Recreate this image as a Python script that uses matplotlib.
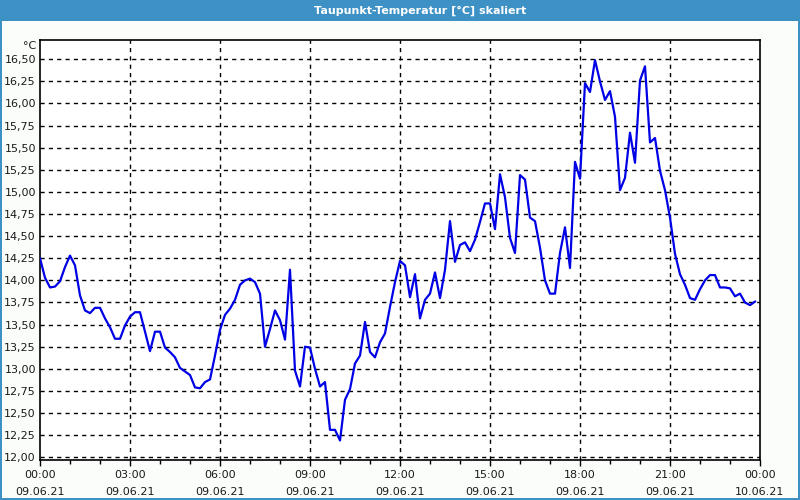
import numpy as np
import pandas as pd
import matplotlib
matplotlib.use("Agg")
import matplotlib.pyplot as plt
import matplotlib.dates as mdates
from matplotlib.patches import Rectangle

# Taupunkt in °C, 10-Minuten-Werte ab 09.06.21 00:00
dewpoint = [
    14.25, 14.03, 13.92, 13.93, 13.99, 14.15, 14.28, 14.17, 13.83, 13.66,
    13.63, 13.69, 13.69, 13.57, 13.47, 13.34, 13.34, 13.49, 13.59, 13.64,
    13.64, 13.42, 13.20, 13.42, 13.42, 13.24, 13.19, 13.13, 13.01, 12.97,
    12.93, 12.79, 12.78, 12.85, 12.88, 13.15, 13.44, 13.61, 13.68, 13.78,
    13.95, 14.00, 14.02, 13.98, 13.85, 13.25, 13.45, 13.66, 13.55, 13.33,
    14.12, 12.98, 12.80, 13.25, 13.24, 13.00, 12.80, 12.85, 12.31, 12.31,
    12.19, 12.65, 12.77, 13.06, 13.15, 13.53, 13.19, 13.13, 13.30, 13.40,
    13.70, 13.98, 14.22, 14.17, 13.81, 14.07, 13.57, 13.78, 13.85, 14.09,
    13.80, 14.12, 14.67, 14.21, 14.40, 14.43, 14.33, 14.46, 14.66, 14.87,
    14.87, 14.58, 15.20, 14.94, 14.48, 14.31, 15.19, 15.14, 14.71, 14.67,
    14.37, 14.00, 13.85, 13.85, 14.31, 14.60, 14.14, 15.34, 15.15, 16.23,
    16.13, 16.49, 16.25, 16.04, 16.14, 15.85, 15.02, 15.16, 15.67, 15.33,
    16.26, 16.42, 15.56, 15.61, 15.24, 15.02, 14.71, 14.30, 14.07, 13.95,
    13.80, 13.78, 13.90, 14.00, 14.06, 14.06, 13.92, 13.92, 13.91, 13.82,
    13.85, 13.75, 13.72, 13.76,
]
times = pd.date_range("2021-06-09 00:00", periods=len(dewpoint), freq="10min")
t_start = pd.Timestamp("2021-06-09 00:00")
t_end = pd.Timestamp("2021-06-10 00:00")
y_ticks = np.arange(12.0, 16.51, 0.25)

fig = plt.figure(figsize=(8, 5), dpi=100)
fig.patch.set_facecolor("#fbfdfb")

# Rahmen und Titelleiste
blue = "#3d91c5"
fig.add_artist(Rectangle((0, 1 - 21 / 500), 1, 21 / 500, transform=fig.transFigure,
                         facecolor=blue, edgecolor="none"))
fig.add_artist(Rectangle((0, 0), 2 / 800, 1, transform=fig.transFigure, facecolor=blue, edgecolor="none"))
fig.add_artist(Rectangle((1 - 2 / 800, 0), 2 / 800, 1, transform=fig.transFigure, facecolor=blue, edgecolor="none"))
fig.add_artist(Rectangle((0, 0), 1, 2 / 500, transform=fig.transFigure, facecolor=blue, edgecolor="none"))
fig.text(0.525, 1 - 10.5 / 500, "Taupunkt-Temperatur [°C] skaliert", color="white",
         fontsize=8, fontweight="bold", ha="center", va="center")

ax = fig.add_axes([40 / 800, 40 / 500, 720 / 800, 420 / 500])
ax.set_facecolor("white")
ax.plot(times, dewpoint, color="#0000e6", linewidth=1.6, zorder=3)

ax.set_xlim(t_start, t_end)
ax.set_ylim(11.969, 16.718)

ax.xaxis.set_major_locator(mdates.HourLocator(byhour=range(0, 24, 3)))
ax.xaxis.set_minor_locator(mdates.HourLocator())
ax.xaxis.set_major_formatter(mdates.DateFormatter("%H:%M\n%d.%m.%y"))
ax.set_yticks(y_ticks)
ax.set_yticklabels([f"{v:.2f}".replace(".", ",") for v in y_ticks])

ax.tick_params(axis="x", which="major", length=4, width=1, pad=3, labelsize=8,
               colors="black", labelcolor="#1a1a1a")
ax.tick_params(axis="x", which="minor", length=3, width=1, colors="black")
ax.tick_params(axis="y", length=0, pad=3, labelsize=8, labelcolor="#1a1a1a")
for lbl in ax.get_xticklabels():
    lbl.set_linespacing(1.85)

# Gitter
for v in y_ticks:
    ax.axhline(v, color="black", linewidth=1, linestyle=(0, (3, 3)), zorder=1)
for h in range(3, 24, 3):
    ax.axvline(t_start + pd.Timedelta(hours=h), color="black", linewidth=1,
               linestyle=(0, (3, 3)), zorder=1)

for s in ax.spines.values():
    s.set_color("black")
    s.set_linewidth(1.2)

fig.text(36 / 800, 1 - 46 / 500, "°C", fontsize=8, ha="right", va="center", color="#1a1a1a")

fig.savefig("out.png", dpi=100, facecolor=fig.get_facecolor())
